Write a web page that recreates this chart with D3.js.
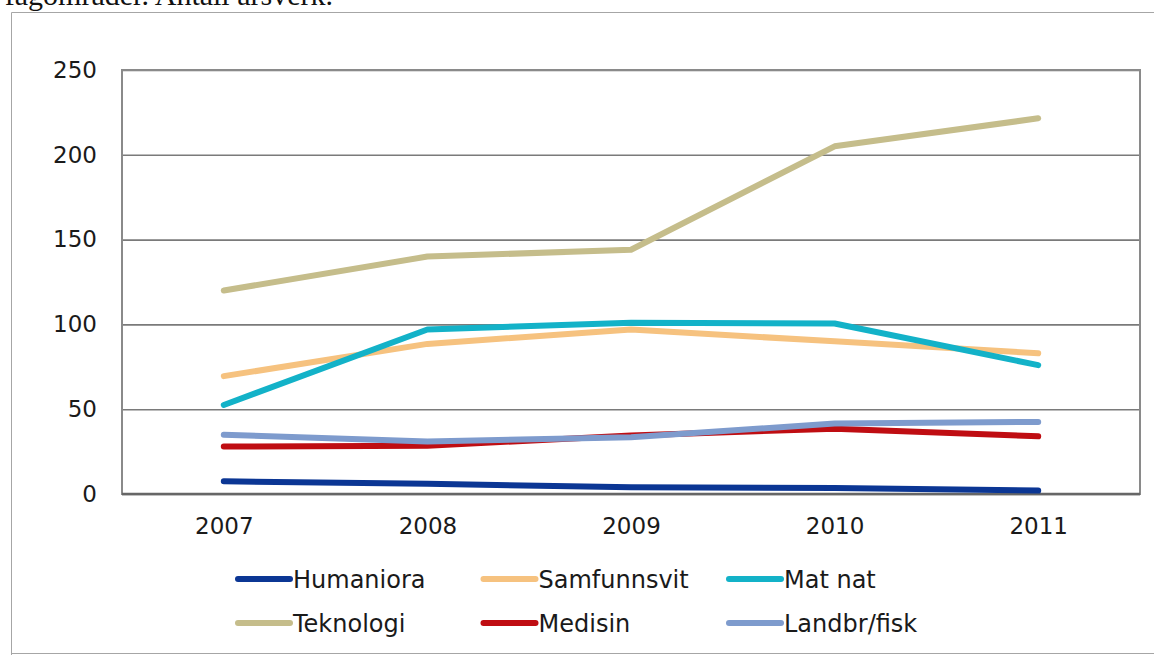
<!DOCTYPE html>
<html>
<head>
<meta charset="utf-8">
<script src="https://cdn.jsdelivr.net/npm/d3@7"></script>
<style>
  body { margin: 0; background: #fff; }
  svg { display: block; }
  .tick text { font-family: "DejaVu Sans", Verdana, sans-serif; fill: #1a1a1a; }
</style>
</head>
<body>
<svg class="chart" width="1154" height="655"></svg>
<script>
var years = ["2007", "2008", "2009", "2010", "2011"];
var yTicks = [0, 50, 100, 150, 200, 250];

var seriesNames = ["Humaniora", "Samfunnsvit", "Mat nat", "Teknologi", "Medisin", "Landbr/fisk"];
var humaniora   = [7.5, 6, 4, 3.5, 2];
var samfunnsvit = [69.5, 88.5, 97, 90, 83];
var matNat      = [52.5, 97, 101, 100.5, 76];
var teknologi   = [120, 140, 144, 205, 221.5];
var medisin     = [28, 28.5, 34.5, 38.5, 34];
var landbrFisk  = [35, 31, 33.5, 41.5, 42.5];
var colors = ["#0b3694", "#f6c27f", "#13b2c8", "#c5bd8b", "#bf0d12", "#7e9bcd"];

var allValues = [humaniora, samfunnsvit, matNat, teknologi, medisin, landbrFisk];
var series = seriesNames.map(function (name, i) {
    return { name: name, color: colors[i], values: allValues[i] };
});

var svg = d3.select("svg.chart");

// outer frame + cut-off caption from the page above
svg.append("path")
    .attr("d", "M11.5,660 V12.5 H1160 M11.5,653.5 H1160")
    .attr("fill", "none")
    .attr("stroke", "#a6a6a6")
    .attr("stroke-width", 1);

svg.append("text")
    .attr("x", 333).attr("y", 5)
    .attr("text-anchor", "end")
    .style("font-family", "'Liberation Serif', 'Times New Roman', serif")
    .style("font-size", "30px")
    .attr("fill", "#111")
    .text("fagområder. Antall årsverk.");

var margin = { left: 122, top: 70, right: 1140, bottom: 494 };
var w = margin.right - margin.left, h = margin.bottom - margin.top;
var g = svg.append("g").attr("transform", "translate(" + margin.left + "," + margin.top + ")");

var x = d3.scalePoint().domain(years).range([0, w]).padding(0.5);
var y = d3.scaleLinear().domain([0, 250]).range([h, 0]);

// gridlines
g.append("g")
    .call(d3.axisLeft(y).tickValues(yTicks).tickSize(-w).tickFormat(""))
    .call(function (s) {
        s.select(".domain").remove();
        s.selectAll(".tick line").attr("stroke", "#7a7a7a").attr("stroke-width", 1.6);
    });

// plot frame
g.append("rect")
    .attr("width", w).attr("height", h)
    .attr("fill", "none")
    .attr("stroke", "#8a8a8a")
    .attr("stroke-width", 2);
g.append("line")
    .attr("x1", 0).attr("x2", w).attr("y1", h).attr("y2", h)
    .attr("stroke", "#666").attr("stroke-width", 2.4);

// axes labels
g.append("g")
    .call(d3.axisLeft(y).tickValues(yTicks).tickSize(0).tickPadding(25))
    .call(function (s) {
        s.select(".domain").remove();
        s.selectAll(".tick text").style("font-size", "23px");
    });

g.append("g")
    .attr("transform", "translate(0," + h + ")")
    .call(d3.axisBottom(x).tickSize(0).tickPadding(24))
    .call(function (s) {
        s.select(".domain").remove();
        s.selectAll(".tick text").style("font-size", "23px");
    });

var line = d3.line()
    .x(function (d, i) { return x(years[i]); })
    .y(function (d) { return y(d); });

g.selectAll(".series")
    .data(series)
    .enter().append("path")
    .attr("class", "series")
    .attr("d", function (d) { return line(d.values); })
    .attr("fill", "none")
    .attr("stroke", function (d) { return d.color; })
    .attr("stroke-width", 6)
    .attr("stroke-linecap", "round")
    .attr("stroke-linejoin", "round");

// legend, 3 columns x 2 rows
var legend = svg.append("g");
var item = legend.selectAll(".item")
    .data(series)
    .enter().append("g")
    .attr("class", "item")
    .attr("transform", function (d, i) {
        return "translate(" + (238 + (i % 3) * 245.5) + "," + (579 + Math.floor(i / 3) * 44) + ")";
    });

item.append("line")
    .attr("x1", 0).attr("x2", 52)
    .attr("stroke", function (d) { return d.color; })
    .attr("stroke-width", 6)
    .attr("stroke-linecap", "round");

item.append("text")
    .attr("x", 55).attr("dy", "0.36em")
    .style("font-family", "'DejaVu Sans', Verdana, sans-serif")
    .style("font-size", "24px")
    .attr("fill", "#1a1a1a")
    .text(function (d) { return d.name; });
</script>
</body>
</html>
